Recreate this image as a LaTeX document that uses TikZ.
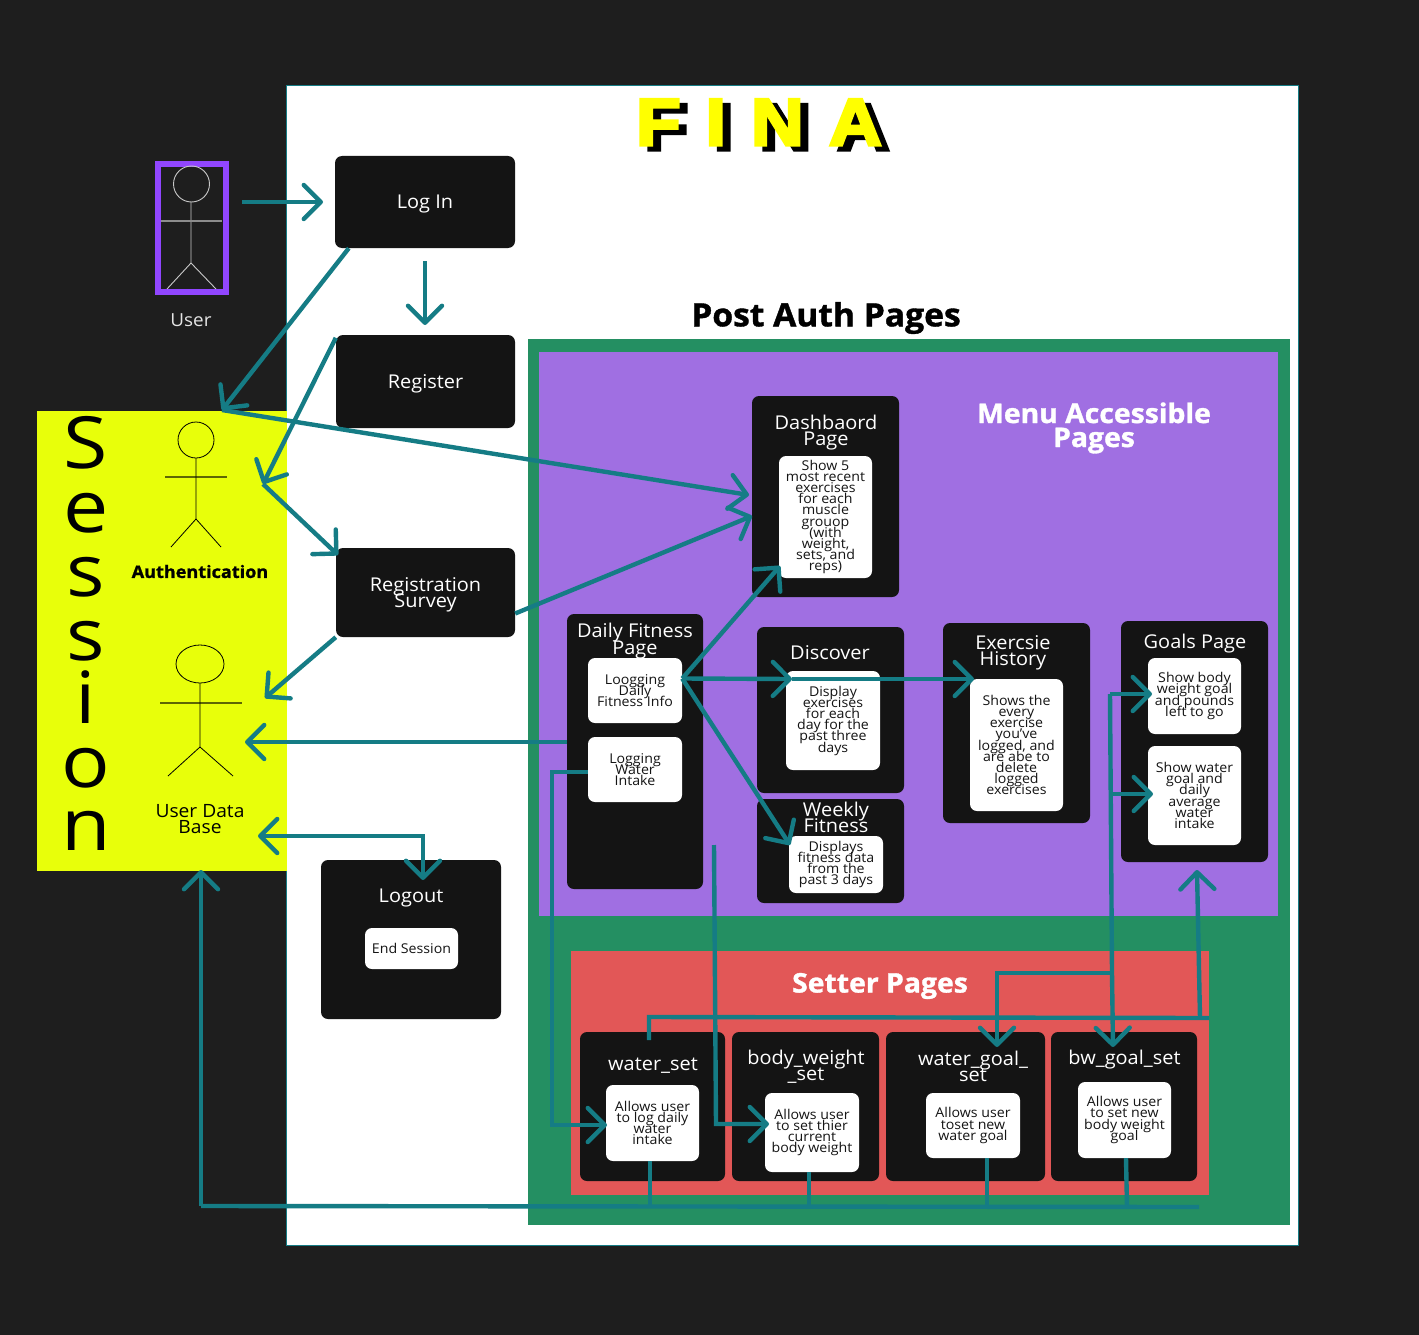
\documentclass[tikz,border=0pt]{standalone}
\usepackage{fontspec}
\setmainfont[FakeStretch=1.05]{Open Sans}
\newfontfamily\finafont[FakeStretch=1.1,BoldFeatures={FakeBold=5}]{Liberation Sans}
\newfontfamily\heavyfont[FakeStretch=1.05,BoldFeatures={FakeBold=1.2}]{Open Sans}
\newfontfamily\sessfont[FakeStretch=1.12]{Open Sans}
\usetikzlibrary{arrows.meta}
\definecolor{bgdark}{HTML}{1E1E1E}
\definecolor{boxblack}{HTML}{141414}
\definecolor{teal1}{HTML}{157C85}
\definecolor{grn}{HTML}{248F62}
\definecolor{purp}{HTML}{A06FE2}
\definecolor{redd}{HTML}{E25757}
\definecolor{yel}{HTML}{E8FF0A}
\definecolor{finay}{HTML}{FFFF00}
\definecolor{purpb}{HTML}{9146FF}
\definecolor{stick}{HTML}{C8C8C8}
\newcommand{\tightlines}{\lineskiplimit=-100pt\lineskip=0pt\relax}
\tikzset{
  bbox/.style={fill=boxblack,rounded corners=7pt,inner sep=0pt,text=white},
  wbox/.style={fill=white,rounded corners=7pt,inner sep=0pt,text=boxblack,align=center,font=\fontsize{13.5}{11.2}\selectfont\tightlines},
  ttl/.style={text=white,align=center,inner sep=0pt,font=\fontsize{19}{16.2}\selectfont\tightlines},
  conn/.style={draw=teal1,line width=4.4pt,line join=miter},
  tip/.style={-{Straight Barb[length=17pt,width=34pt,line width=4.4pt,round]}},
  dtip/.style={{Straight Barb[length=17pt,width=34pt,line width=4.4pt,round]}-{Straight Barb[length=17pt,width=34pt,line width=4.4pt,round]}},
  sess/.style={anchor=base,inner sep=0pt,text=black,font=\sessfont\fontsize{72}{72}\selectfont},
  hdg/.style={inner sep=0pt,align=center,text=white,font=\heavyfont\fontsize{27}{24}\selectfont\bfseries\tightlines},
  finaB/.style={anchor=base west,inner sep=0pt,text=black,font=\finafont\fontsize{66}{66}\selectfont\bfseries},
  finaY/.style={anchor=base west,inner sep=0pt,text=finay,font=\finafont\fontsize{66}{66}\selectfont\bfseries},
  fig/.style={draw=stick,line width=0.9pt},
  figB/.style={draw=black,line width=0.8pt},
  armU/.style={draw=stick!70!black,line width=1.4pt},
  armB/.style={draw=black!60!yel,line width=1.4pt}
}
\begin{document}
\begin{tikzpicture}[x=1pt,y=-1pt]
\useasboundingbox (0,0) rectangle (1419,1335);
\fill[bgdark] (0,0) rectangle (1419,1335);
\draw[fill=white,draw=teal1,line width=0.6pt] (286.7,85) rectangle (1298,1245);
% session panel
\fill[yel] (37,411) rectangle (287,871);
\node[sess] (s1) at (86,468) {S};
\node[sess] (s2) at (86,532) {e};
\node[sess] (s3) at (86,596.5) {s};
\node[sess] (s4) at (86,660) {s};
\node[sess] (s5) at (86,723) {i};
\node[sess] (s6) at (86,787.5) {o};
\node[sess] (s7) at (86,850) {n};
% panels
\fill[grn] (528,339) rectangle (1290,1225);
\fill[purp] (539,352) rectangle (1278,916);
\fill[redd] (571,951) rectangle (1209,1195);
% title
\foreach \c/\xx in {F/636,I/705.5,N/751,A/829}{
  \node[finaB] at (\xx+8,150) {\c};
  \node[finaY] at (\xx,145) {\c};
}
\node[inner sep=0pt,text=black,font=\heavyfont\fontsize{32}{32}\selectfont\bfseries] (post) at (826,318) {Post Auth Pages};
\node[hdg,text=white] (menu) at (1094,428) {Menu Accessible\\Pages};
\node[hdg] (setter) at (880,986) {Setter Pages};
% user
\draw[draw=purpb,line width=6pt] (158,164) rectangle (226,292);
\draw[fig] (191.5,184) circle (18);
\draw[fig] (191,202) -- (191,263) (167,289) -- (191,263) -- (216,289);
\draw[armU] (161,221) -- (222,221);
\node[inner sep=0pt,text=white!90!black,font=\fontsize{18}{16}\selectfont] (userL) at (191,320.5) {User};
\coordinate (userOut) at (242,202);
% auth figures
\draw[figB] (196,440) circle (18);
\draw[armB] (165,477) -- (227,477);
\draw[figB] (196,458) -- (196,519) (171,547) -- (196,519) -- (221,547);
\node[inner sep=0pt,text=black,font=\heavyfont\fontsize{17.2}{16}\selectfont\bfseries] (auth) at (200,571.5) {Authentication};
\draw[figB] (200,664) ellipse (24 and 19);
\draw[armB] (160,703) -- (242,703);
\draw[figB] (200,683) -- (200,747) (168,776) -- (200,747) -- (233,776);
\node[inner sep=0pt,align=center,text=black,font=\fontsize{18.3}{16}\selectfont\tightlines] (udb) at (200,819) {User Data\\Base};
% left column
\node[bbox,minimum width=180pt,minimum height=92pt] (login) at (425,202) {};
\node[ttl] (loginT) at (425,204.5) {Log In};
\node[bbox,minimum width=179pt,minimum height=93pt] (register) at (425.5,381.5) {};
\node[ttl] (registerT) at (425.5,384) {Register};
\node[bbox,minimum width=179pt,minimum height=89pt] (survey) at (425.5,592.5) {};
\node[ttl] (surveyT) at (425.5,594.5) {Registration\\Survey};
\node[bbox,minimum width=180pt,minimum height=159pt] (logout) at (411,939.5) {};
\node[ttl] (logoutT) at (411,898) {Logout};
\node[wbox,minimum width=93pt,minimum height=41pt] (logoutW) at (411.5,948.5) {End Session};
% dashboard
\node[bbox,minimum width=147pt,minimum height=201pt] (dash) at (825.5,496.5) {};
\node[ttl] (dashT) at (826,432.5) {Dashbaord\\Page};
\node[wbox,minimum width=93pt,minimum height=122pt] (dashW) at (825.5,517) {Show 5\\most recent\\exercises\\for each\\muscle\\grouop\\(with\\weight,\\sets, and\\reps)};
% daily
\node[bbox,minimum width=136pt,minimum height=275pt] (daily) at (635,751.5) {};
\node[ttl] (dailyT) at (635,641) {Daily Fitness\\Page};
\node[wbox,minimum width=94pt,minimum height=65pt] (dailyA) at (635,690.5) {Loogging\\Daily\\Fitness Info};
\node[wbox,minimum width=94pt,minimum height=65pt] (dailyB) at (635,769.5) {Logging\\Water\\Intake};
% discover
\node[bbox,minimum width=147pt,minimum height=166pt] (disc) at (830.5,710) {};
\node[ttl] (discT) at (830,653) {Discover};
\node[wbox,minimum width=94pt,minimum height=99pt] (discW) at (833,720.5) {Display\\exercises\\for each\\day for the\\past three\\days};
% weekly
\node[bbox,minimum width=147pt,minimum height=104pt] (week) at (830.5,851) {};
\node[ttl] (weekT) at (836,817) {Weekly\\Fitness};
\node[wbox,minimum width=94pt,minimum height=57pt] (weekW) at (836,864.5) {Displays\\fitness data\\from the\\past 3 days};
% exercise
\node[bbox,minimum width=147pt,minimum height=200pt] (exer) at (1016.5,723) {};
\node[ttl] (exerT) at (1013,653) {Exercsie\\History};
\node[wbox,minimum width=93pt,minimum height=132pt] (exerW) at (1016.5,745) {Shows the\\every\\exercise\\you’ve\\logged, and\\are abe to\\delete\\logged\\exercises};
% goals
\node[bbox,minimum width=147pt,minimum height=241pt] (goals) at (1194.5,741.5) {};
\node[ttl] (goalsT) at (1195,644) {Goals Page};
\node[wbox,minimum width=93pt,minimum height=76pt] (goalsA) at (1194.5,696) {Show body\\weight goal\\and pounds\\left to go};
\node[wbox,minimum width=93pt,minimum height=99pt] (goalsB) at (1194.5,795.5) {Show water\\goal and\\daily\\average\\water\\intake};
% setters
\node[bbox,minimum width=145pt,minimum height=149pt] (ws) at (652.5,1106.5) {};
\node[ttl] (wsT) at (653,1066) {water\_set};
\node[wbox,minimum width=93pt,minimum height=76pt] (wsW) at (652.5,1123) {Allows user\\to log daily\\water\\intake};
\node[bbox,minimum width=147pt,minimum height=149pt] (bs) at (805.5,1106.5) {};
\node[ttl] (bsT) at (806,1067) {body\_weight\\\_set};
\node[wbox,minimum width=94pt,minimum height=79pt] (bsW) at (812,1132.5) {Allows user\\to set thier\\current\\body weight};
\node[bbox,minimum width=159pt,minimum height=149pt] (wg) at (965.5,1106.5) {};
\node[ttl] (wgT) at (973,1066.5) {water\_goal\_\\set};
\node[wbox,minimum width=94pt,minimum height=65pt] (wgW) at (973,1125.5) {Allows user\\toset new\\water goal};
\node[bbox,minimum width=146pt,minimum height=149pt] (bg) at (1124,1106.5) {};
\node[ttl] (bgT) at (1124.5,1060) {bw\_goal\_set};
\node[wbox,minimum width=93pt,minimum height=76pt] (bgW) at (1124.5,1120) {Allows user\\to set new\\body weight\\goal};
% route points
\coordinate (loginIn) at (323,202);
\coordinate (authTip) at (222,410);
\coordinate (regTip) at (425,325);
\coordinate (loginDown) at (425,261);
\coordinate (hub) at (263,484);
\coordinate (surveyIn) at (338,555);
\coordinate (udbTip) at (265,698);
\coordinate (udbTipB) at (245,742);
\coordinate (dashTipA) at (749,495);
\coordinate (dashTipB) at (752,516);
\coordinate (dashTipC) at (780,566);
\coordinate (discTip) at (792,679);
\coordinate (exerTip) at (974,679);
\coordinate (weekTip) at (790,845);
\coordinate (logoutTip) at (423,880);
\coordinate (logoutL) at (258,836);
\coordinate (logoutC) at (423,836);
\coordinate (wsC1) at (552,772);
\coordinate (wsC2) at (552,1125);
\coordinate (wsTip) at (607,1125);
\coordinate (bsC0) at (714,845);
\coordinate (bsC1) at (716,1124);
\coordinate (bsTip) at (769,1124);
\coordinate (busL) at (201,1206);
\coordinate (busR) at (1199,1207);
\coordinate (sessTip) at (201,870);
\coordinate (setTopL) at (649,1017);
\coordinate (setTopR) at (1209,1018);
\coordinate (setUp) at (1200,1018);
\coordinate (goalsTip) at (1197,870);
\coordinate (vt) at (1110,694);
\coordinate (vm) at (1111,794);
\coordinate (vj) at (1112,973);
\coordinate (bgTip) at (1113,1047);
\coordinate (wgC) at (997,973);
\coordinate (wgTip) at (997,1047);
\coordinate (goalsTipA) at (1152,694);
\coordinate (goalsTipB) at (1153,794);
\coordinate (setDrop) at (649,1040);
\coordinate (busA) at (650,1207);
\coordinate (busB) at (809,1207);
\coordinate (busC) at (987,1207);
\coordinate (busD) at (1127,1207);
% connectors
\draw[conn,tip] (userOut) -- (loginIn);
\draw[conn,tip] ([xshift=14pt]login.south west) -- (authTip);
\draw[conn,tip] (loginDown) -- (regTip);
\draw[conn,tip] ([yshift=-3pt]register.north west) -- (hub);
\draw[conn,tip] (hub) -- (surveyIn);
\draw[conn,tip] (survey.south west) -- (udbTip);
\draw[conn,tip] (authTip) -- (dashTipA);
\draw[conn,tip] ([yshift=-21pt]survey.east) -- (dashTipB);
\draw[conn,tip] ([yshift=9.5pt]daily.west) -- (udbTipB);
\draw[conn,tip] ([yshift=-2.5pt]dailyB.west) -- (wsC1) -- (wsC2) -- (wsTip);
\draw[conn,tip] (bsC0) -- (bsC1) -- (bsTip);
\draw[conn,tip] ([yshift=12pt]dailyA.east) -- (dashTipC);
\draw[conn,tip] ([yshift=12pt]dailyA.east) -- (discTip);
\draw[conn,tip] (discTip) -- (exerTip);
\draw[conn,tip] ([yshift=12pt]dailyA.east) -- (weekTip);
\draw[conn,dtip] (logoutL) -- (logoutC) -- (logoutTip);
\draw[conn,tip] (busL) -- (sessTip);
\draw[conn] (busL) -- (busR);
\draw[conn] ([xshift=-2.5pt]wsW.south) -- (busA);
\draw[conn] ([xshift=-3pt]bsW.south) -- (busB);
\draw[conn] ([xshift=14pt]wgW.south) -- (busC);
\draw[conn] ([xshift=1.5pt]bgW.south) -- (busD);
\draw[conn] (setDrop) -- (setTopL) -- (setTopR);
\draw[conn,tip] (setUp) -- (goalsTip);
\draw[conn,tip] (vt) -- (goalsTipA);
\draw[conn,tip] (vm) -- (goalsTipB);
\draw[conn,tip] (vt) -- (vj) -- (bgTip);
\draw[conn,tip] (vj) -- (wgC) -- (wgTip);
\end{tikzpicture}
\end{document}
